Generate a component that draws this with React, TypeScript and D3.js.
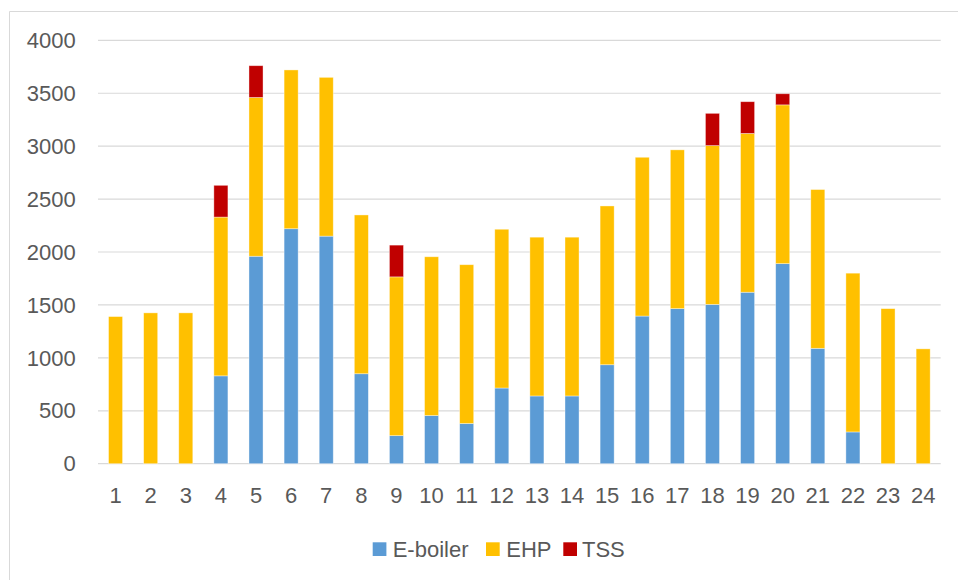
import React from "react";
import * as d3 from "d3";

const categories = ["1","2","3","4","5","6","7","8","9","10","11","12","13","14","15","16","17","18","19","20","21","22","23","24"];
const eBoiler = [0,0,0,830,1960,2220,2150,850,265,455,380,715,640,640,935,1395,1465,1505,1620,1890,1090,300,0,0];
const ehp = [1390,1425,1425,1500,1500,1500,1500,1500,1500,1500,1500,1500,1500,1500,1500,1500,1500,1500,1500,1500,1500,1500,1465,1085];
const tss = [0,0,0,300,300,0,0,0,300,0,0,0,0,0,0,0,0,305,300,105,0,0,0,0];
const yTicks = [0,500,1000,1500,2000,2500,3000,3500,4000];
const seriesNames = ["E-boiler","EHP","TSS"];
const colors = ["#5B9BD5","#FFC000","#C00000"];

export default function App() {
  const W = 958, H = 580;
  const left = 98, right = 940.7, top = 40.3, bottom = 463.7;
  const x = d3.scaleBand().domain(categories).range([left, right]).paddingInner(0.6).paddingOuter(0.3);
  const y = d3.scaleLinear().domain([0, 4000]).range([bottom, top]);
  const rows = categories.map((c, i) => ({ cat: c, "E-boiler": eBoiler[i], EHP: ehp[i], TSS: tss[i] }));
  const stacked = d3.stack<any>().keys(seriesNames)(rows);
  const font = "'Liberation Sans', Arial, sans-serif";
  const textColor = "#595959";
  const legendItems = [
    { name: "E-boiler", sx: 372.7, tx: 392.7 },
    { name: "EHP", sx: 486, tx: 506.3 },
    { name: "TSS", sx: 563.3, tx: 582 },
  ];
  return (
    <svg width={W} height={H} style={{ position: "absolute", left: 0, top: 0, background: "#fff" }}>
      <rect x={0} y={0} width={W} height={H} fill="#fff" />
      <line x1={9.5} y1={11.5} x2={W} y2={11.5} stroke="#d9d9d9" strokeWidth={1} />
      <line x1={9.5} y1={11.5} x2={9.5} y2={H} stroke="#d9d9d9" strokeWidth={1} />
      {yTicks.map((t) => (
        <g key={t}>
          <line x1={left} x2={right} y1={y(t)} y2={y(t)} stroke="#d9d9d9" strokeWidth={1.2} />
          <text x={75.7} y={y(t)} dy="0.35em" textAnchor="end" fontFamily={font} fontSize={22} fill={textColor}>{t}</text>
        </g>
      ))}
      {stacked.map((s, si) => (
        <g key={s.key} fill={colors[si]}>
          {s.map((d, i) => {
            const h = y(d[0]) - y(d[1]);
            if (h <= 0) return null;
            return (
              <rect key={i} x={x(categories[i])} y={y(d[1])} width={x.bandwidth()} height={h}
                stroke="#ffffff" strokeOpacity={0.5} strokeWidth={0.75} />
            );
          })}
        </g>
      ))}
      {categories.map((c) => (
        <text key={c} x={(x(c) as number) + x.bandwidth() / 2} y={503.3} textAnchor="middle" fontFamily={font} fontSize={22} fill={textColor}>{c}</text>
      ))}
      {legendItems.map((l, i) => (
        <g key={l.name}>
          <rect x={l.sx} y={542.3} width={13.7} height={13.7} fill={colors[i]} />
          <text x={l.tx} y={549} dy="0.35em" fontFamily={font} fontSize={22} fill={textColor}>{l.name}</text>
        </g>
      ))}
    </svg>
  );
}
